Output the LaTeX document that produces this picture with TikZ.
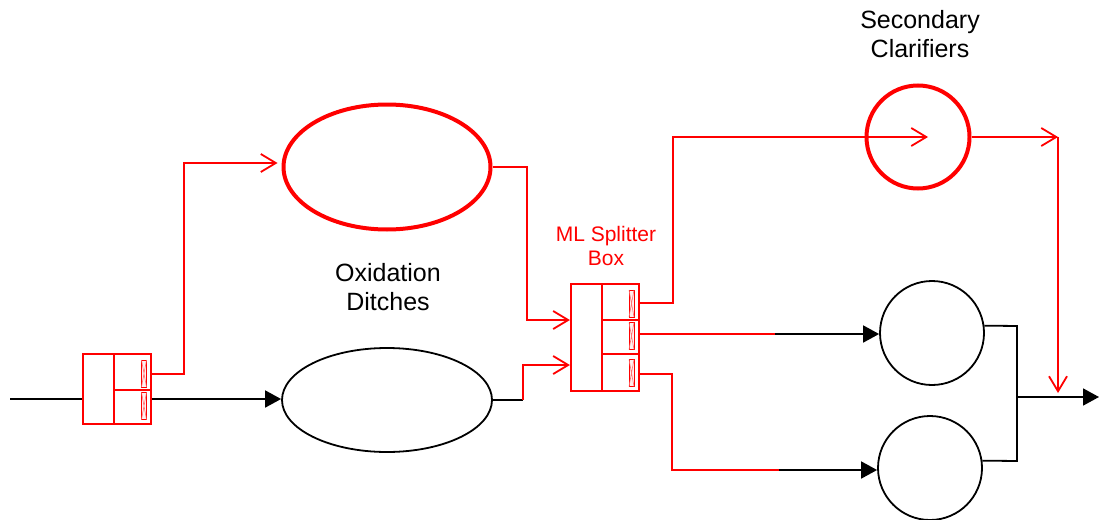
\documentclass[tikz,border=0pt]{standalone}
\usepackage{fontspec}
\setmainfont{Liberation Sans}
\usetikzlibrary{arrows.meta,shapes.geometric,calc}
\begin{document}
\begin{tikzpicture}[x=1pt,y=-1pt,
  redln/.style={draw=red, line width=1.8pt},
  blkln/.style={draw=black, line width=1.8pt},
  openarr/.style={-{Straight Barb[length=15pt,width=18pt]}},
  fillarr/.style={-{Triangle[length=16pt,width=17pt]}},
  boxst/.style={draw=red, line width=2.2pt, rectangle, inner sep=0pt},
  vessel/.style={inner sep=0pt, line width=1.8pt, draw=black},
  bigtext/.style={align=center, font=\fontsize{25}{29}\selectfont},
  redtext/.style={align=center, text=red, font=\fontsize{21}{24}\selectfont},
  valve/.pic={
    \draw[red, line width=0.8pt, fill=red!6] (-2.5,-13.5) rectangle (2.5,13.5);
    \draw[red!55, line width=0.6pt] (-2.5,-13.5) -- (2.5,13.5) (2.5,-13.5) -- (-2.5,13.5);
  }
]
\useasboundingbox (0,0) rectangle (1099,519);

% --- inlet splitter box
\node[boxst, minimum width=68pt, minimum height=70pt] (sp1) at (117,389) {};
\draw[red, line width=2.2pt] (114,354) -- (114,424) (114,390) -- (151,390);
\pic at (144,373.5) {valve};
\pic at (144,406) {valve};

% --- oxidation ditches
\node[ellipse, draw=red, line width=4pt, inner sep=0pt, minimum width=207pt, minimum height=125pt] (od1) at (387,167) {};
\node[ellipse, vessel, minimum width=210pt, minimum height=104pt] (od2) at (387,400) {};

% --- ML splitter box
\node[boxst, minimum width=68pt, minimum height=107pt] (ml) at (605,337.5) {};
\draw[red, line width=2.2pt] (602,284) -- (602,391) (602,320) -- (639,320) (602,354) -- (639,354);
\pic at (631.5,303.5) {valve};
\pic at (631.5,336) {valve};
\pic at (631.5,373) {valve};

% --- secondary clarifiers
\node[circle, draw=red, line width=4pt, inner sep=0pt, minimum size=103pt] (sc) at (918,137) {};
\node[circle, vessel, minimum size=104pt] (c1) at (932,333) {};
\node[circle, vessel, minimum size=104pt] (c2) at (930,468) {};

% --- labels
\node[bigtext] (lsc) at (920,34) {Secondary\\Clarifiers};
\node[bigtext] (lod) at (388,287) {Oxidation\\Ditches};
\node[redtext] (lml) at (606,246) {ML Splitter\\Box};

% --- coordinates
\coordinate (inl) at (10,399);
\coordinate (rc) at (1058,137);
\coordinate (jt) at (1017,326);
\coordinate (jb) at (1017,461);
\coordinate (jm) at (1017,397);
\coordinate (outl) at (1099,397);

% --- connectors
\draw[blkln] (inl) -- (inl -| sp1.west);
\draw[blkln, fillarr] (sp1.east |- 0,399) -- (od2.west |- 0,399);
\draw[redln, openarr] (sp1.east |- 0,374) -- (184,374) -- (184,163) -- ([xshift=-4pt]od1.west |- 0,163);

\draw[redln, openarr] (od1.east) -- (527,167) -- (527,320) -- (ml.west |- 0,320);
\draw[blkln] (od2.east) -- (523,400);
\draw[redln, openarr] (523,400) -- (523,365) -- (ml.west |- 0,365);

\draw[redln, openarr] (ml.east |- 0,303) -- (673,303) -- (673,137) -- ([xshift=10pt]sc.center);
\draw[redln, openarr] (sc.east) -- (rc);
\draw[redln, openarr] (rc) -- (rc |- 0,393);

\draw[redln] (ml.east |- 0,334) -- (775,334);
\draw[blkln, fillarr] (775,334) -- (c1.west |- 0,334);
\draw[redln] (ml.east |- 0,374) -- (672,374) -- (672,470) -- (779,470);
\draw[blkln, fillarr] (779,470) -- (c2.west |- 0,470);

\draw[blkln] (c1.8) -- (jt) -- (jb) -- (c2.8);
\draw[blkln, fillarr] (jm) -- (outl);
\end{tikzpicture}
\end{document}
